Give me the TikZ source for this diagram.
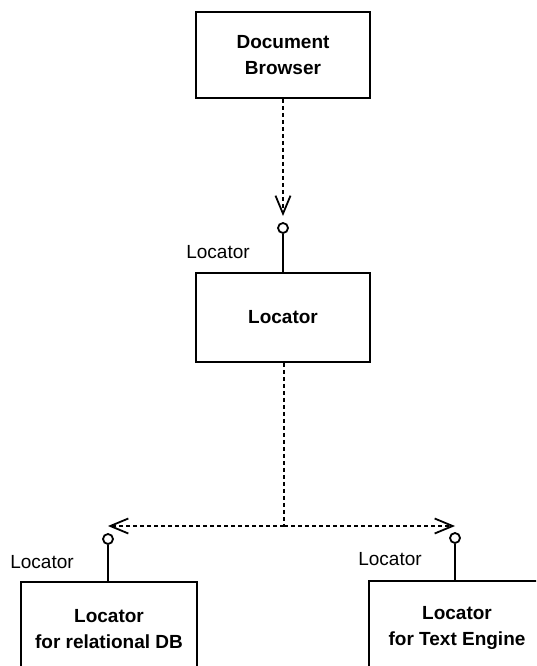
\documentclass[tikz,border=0pt]{standalone}
\usepackage{fontspec}
\setmainfont{Liberation Sans}
\usetikzlibrary{arrows.meta}
\begin{document}
\begin{tikzpicture}[x=1pt,y=-1pt,
  comp/.style={draw, line width=1.9pt, minimum width=174pt, align=center,
    font=\fontsize{19}{26}\selectfont\bfseries, inner sep=0pt},
  iface/.style={draw, circle, line width=1.8pt, minimum size=10pt, inner sep=0pt, fill=white},
  stem/.style={line width=1.9pt},
  dep/.style={line width=1.7pt, dash pattern=on 4pt off 3pt,
    -{Straight Barb[length=18pt,width=15pt,line width=1.8pt]}},
  depline/.style={line width=1.7pt, dash pattern=on 4pt off 3pt},
  lbl/.style={font=\fontsize{19}{22}\selectfont, inner sep=0pt}
]
\useasboundingbox (0,0) rectangle (536,666);
\clip (0,0) rectangle (536,666);

% components
\node[comp, minimum height=86pt] (browser) at (283,55) {Document\\Browser};
\node[comp, minimum height=89pt] (locator) at (283,317.5) {Locator};
\node[comp, minimum width=176pt, minimum height=94pt] (reldb) at (109,629) {Locator\\for relational DB};
\node[comp, minimum width=176pt, minimum height=94pt] (textengine) at (457,628) {Locator\\for Text Engine};

% provided interfaces
\node[iface] (ifLoc) at (283,228) {};
\node[iface] (ifRel) at (108,539) {};
\node[iface] (ifText) at (455,538) {};
\draw[stem] (ifLoc.south) -- (ifLoc.south |- locator.north);
\draw[stem] (ifRel.south) -- (ifRel.south |- reldb.north);
\draw[stem] (ifText.south) -- (ifText.south |- textengine.north);

\node[lbl] (lLoc) at (218,252) {Locator};
\node[lbl] (lRel) at (42,562) {Locator};
\node[lbl] (lText) at (390,559) {Locator};

% dependencies
\coordinate (tipLoc) at (283,216);
\coordinate (split) at (284,526);
\coordinate (tipRel) at (108,526);
\coordinate (tipText) at (455,526);
\draw[dep] (browser.south) -- (tipLoc);
\draw[depline] (locator.south -| split) -- (split);
\draw[dep] (split) -- (tipRel);
\draw[dep] (split) -- (tipText);
\end{tikzpicture}
\end{document}
